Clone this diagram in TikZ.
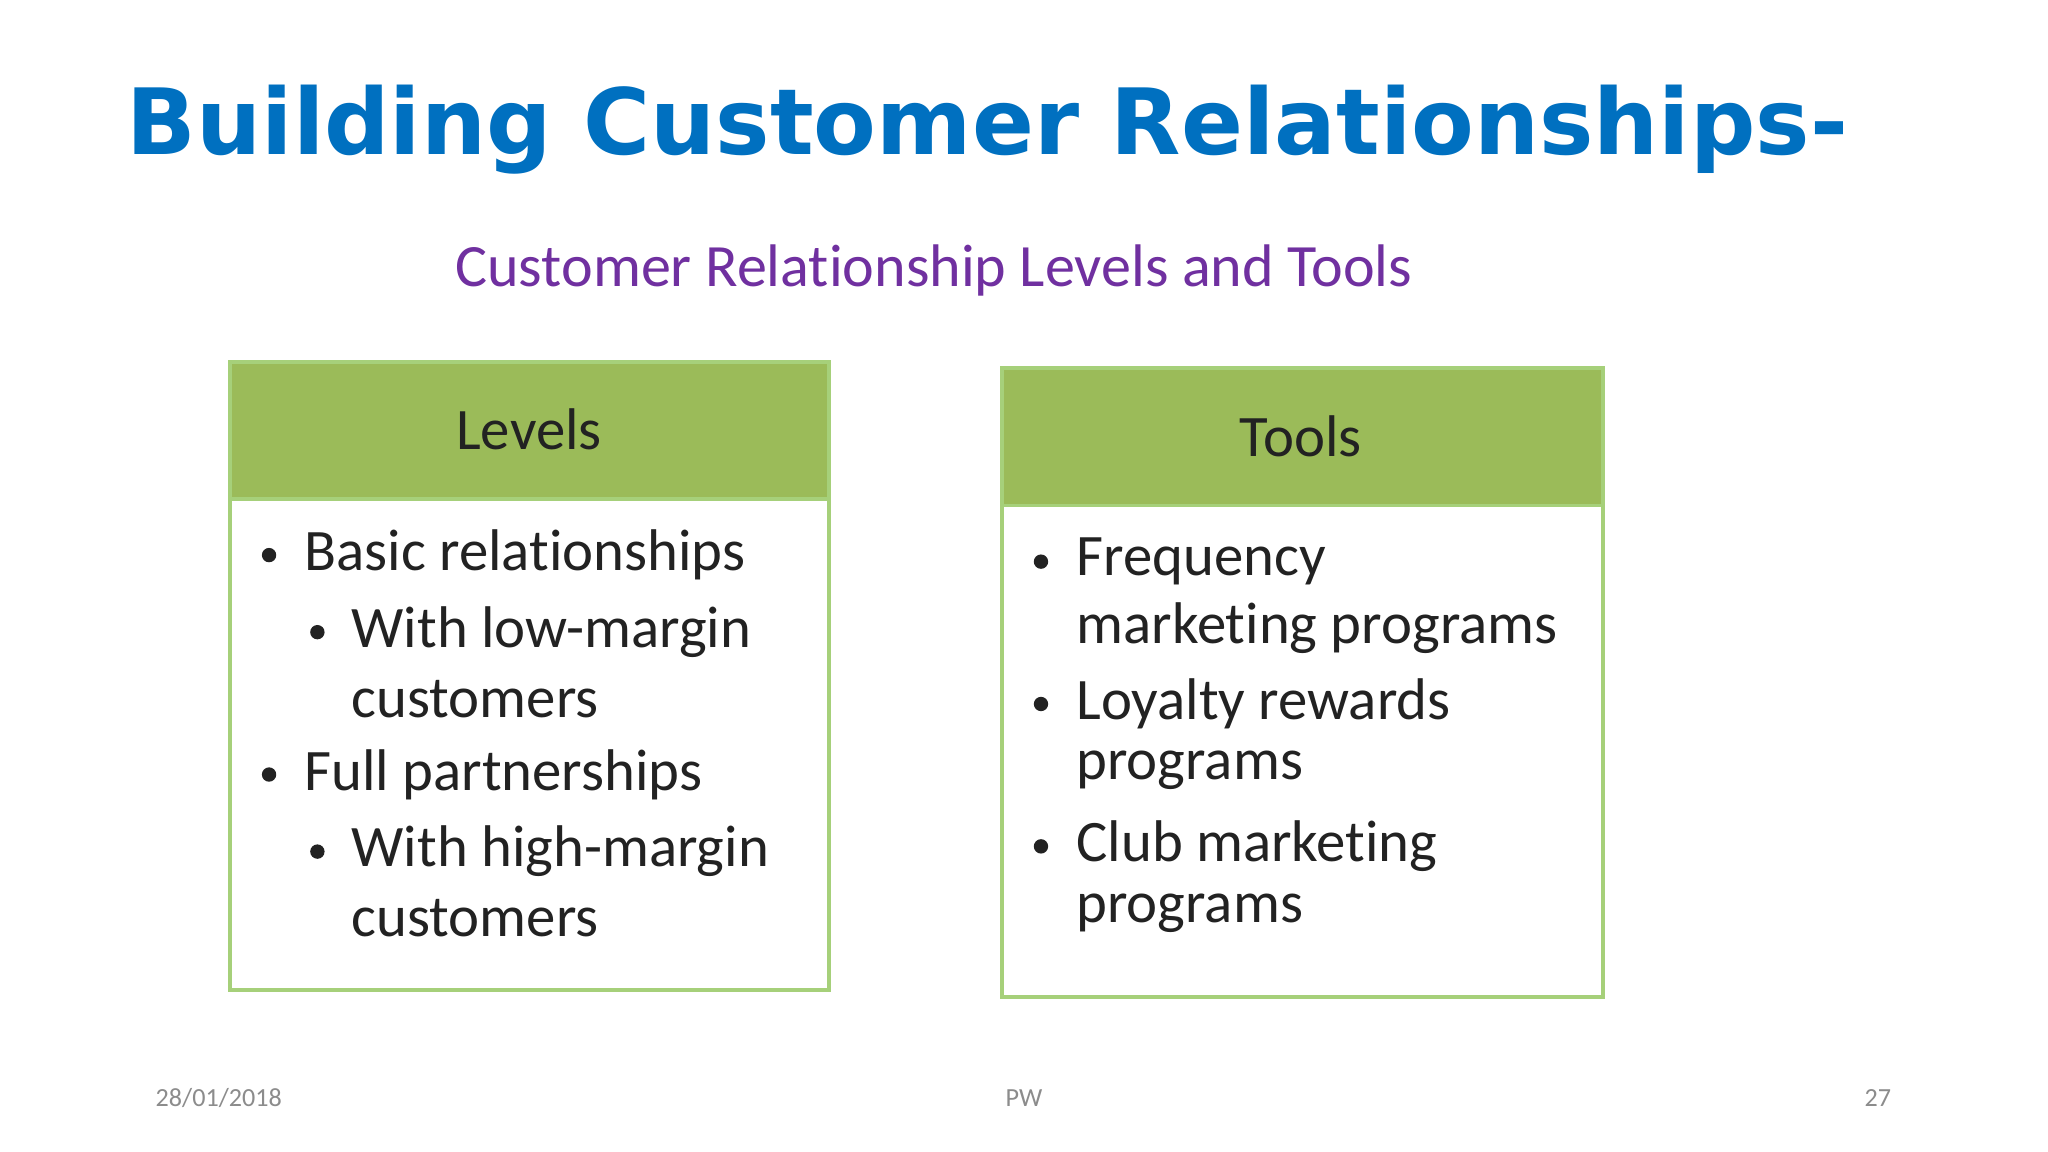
\documentclass[tikz,border=0pt]{standalone}
\usepackage{fontspec}
\setmainfont{Carlito}[RawFeature=-liga]
\newfontfamily\titlefont{DejaVu Sans}
\definecolor{titleblue}{HTML}{0070C0}
\definecolor{subpurple}{HTML}{7030A0}
\definecolor{hdrgreen}{HTML}{9BBB59}
\definecolor{brdgreen}{HTML}{A6D07A}
\definecolor{txt}{HTML}{222222}
\definecolor{foot}{HTML}{8C8C8C}
\tikzset{
  hdr/.style={fill=hdrgreen, draw=brdgreen, line width=3pt},
  bodybox/.style={fill=white, draw=brdgreen, line width=3pt},
  item/.style={anchor=west, inner sep=0pt, font=\fontsize{45}{54}\selectfont, text=txt},
  dot/.style={circle, fill=txt, inner sep=0pt, minimum size=11pt},
  ftr/.style={font=\fontsize{20}{24}\selectfont, text=foot}
}
\begin{document}
\begin{tikzpicture}[x=1pt,y=-1pt]
\useasboundingbox (0,0) rectangle (1568,882);
\fill[white] (0,0) rectangle (1568,882);
\node[anchor=west, inner sep=0pt, text=titleblue, font=\titlefont\bfseries\fontsize{70}{80}\selectfont] (title) at (97,99) {Building Customer Relationships-};
\node[inner sep=0pt, text=subpurple, font=\fontsize{46}{54}\selectfont] (sub) at (715,207) {Customer Relationship Levels and Tools};
% Levels box
\draw[bodybox] (176,382) rectangle (635,758);
\draw[hdr] (176,277) rectangle (635,382);
\node[font=\fontsize{45}{54}\selectfont, text=txt] (lh) at (405,329) {Levels};
\node[dot] (d1) at (206,425) {}; \node[item] (l1) at (233,425) {Basic relationships};
\node[dot] (d2) at (243,484) {}; \node[item] (l2) at (269,484) {With low-margin};
\node[item] (l3) at (269,535) {customers};
\node[dot] (d3) at (206,593) {}; \node[item] (l4) at (233,593) {Full partnerships};
\node[dot] (d4) at (243,652) {}; \node[item] (l5) at (269,652) {With high-margin};
\node[item] (l6) at (269,703) {customers};
% Tools box
\draw[bodybox] (767,387) rectangle (1227,763);
\draw[hdr] (767,282) rectangle (1227,387);
\node[font=\fontsize{45}{54}\selectfont, text=txt] (th) at (996,334) {Tools};
\node[dot] (e1) at (797,430) {}; \node[item] (t1) at (824,430) {Frequency};
\node[item] (t2) at (824,481) {marketing programs};
\node[dot] (e2) at (797,539) {}; \node[item] (t3) at (824,539) {Loyalty rewards};
\node[item] (t4) at (824,590) {programs};
\node[dot] (e3) at (797,648) {}; \node[item] (t5) at (824,648) {Club marketing};
\node[item] (t6) at (824,699) {programs};
% footer
\node[ftr, anchor=west, inner sep=0pt] (date) at (119,841) {28/01/2018};
\node[ftr, inner sep=0pt] (pw) at (784,841) {PW};
\node[ftr, anchor=east, inner sep=0pt] (pg) at (1448,841) {27};
\end{tikzpicture}
\end{document}
